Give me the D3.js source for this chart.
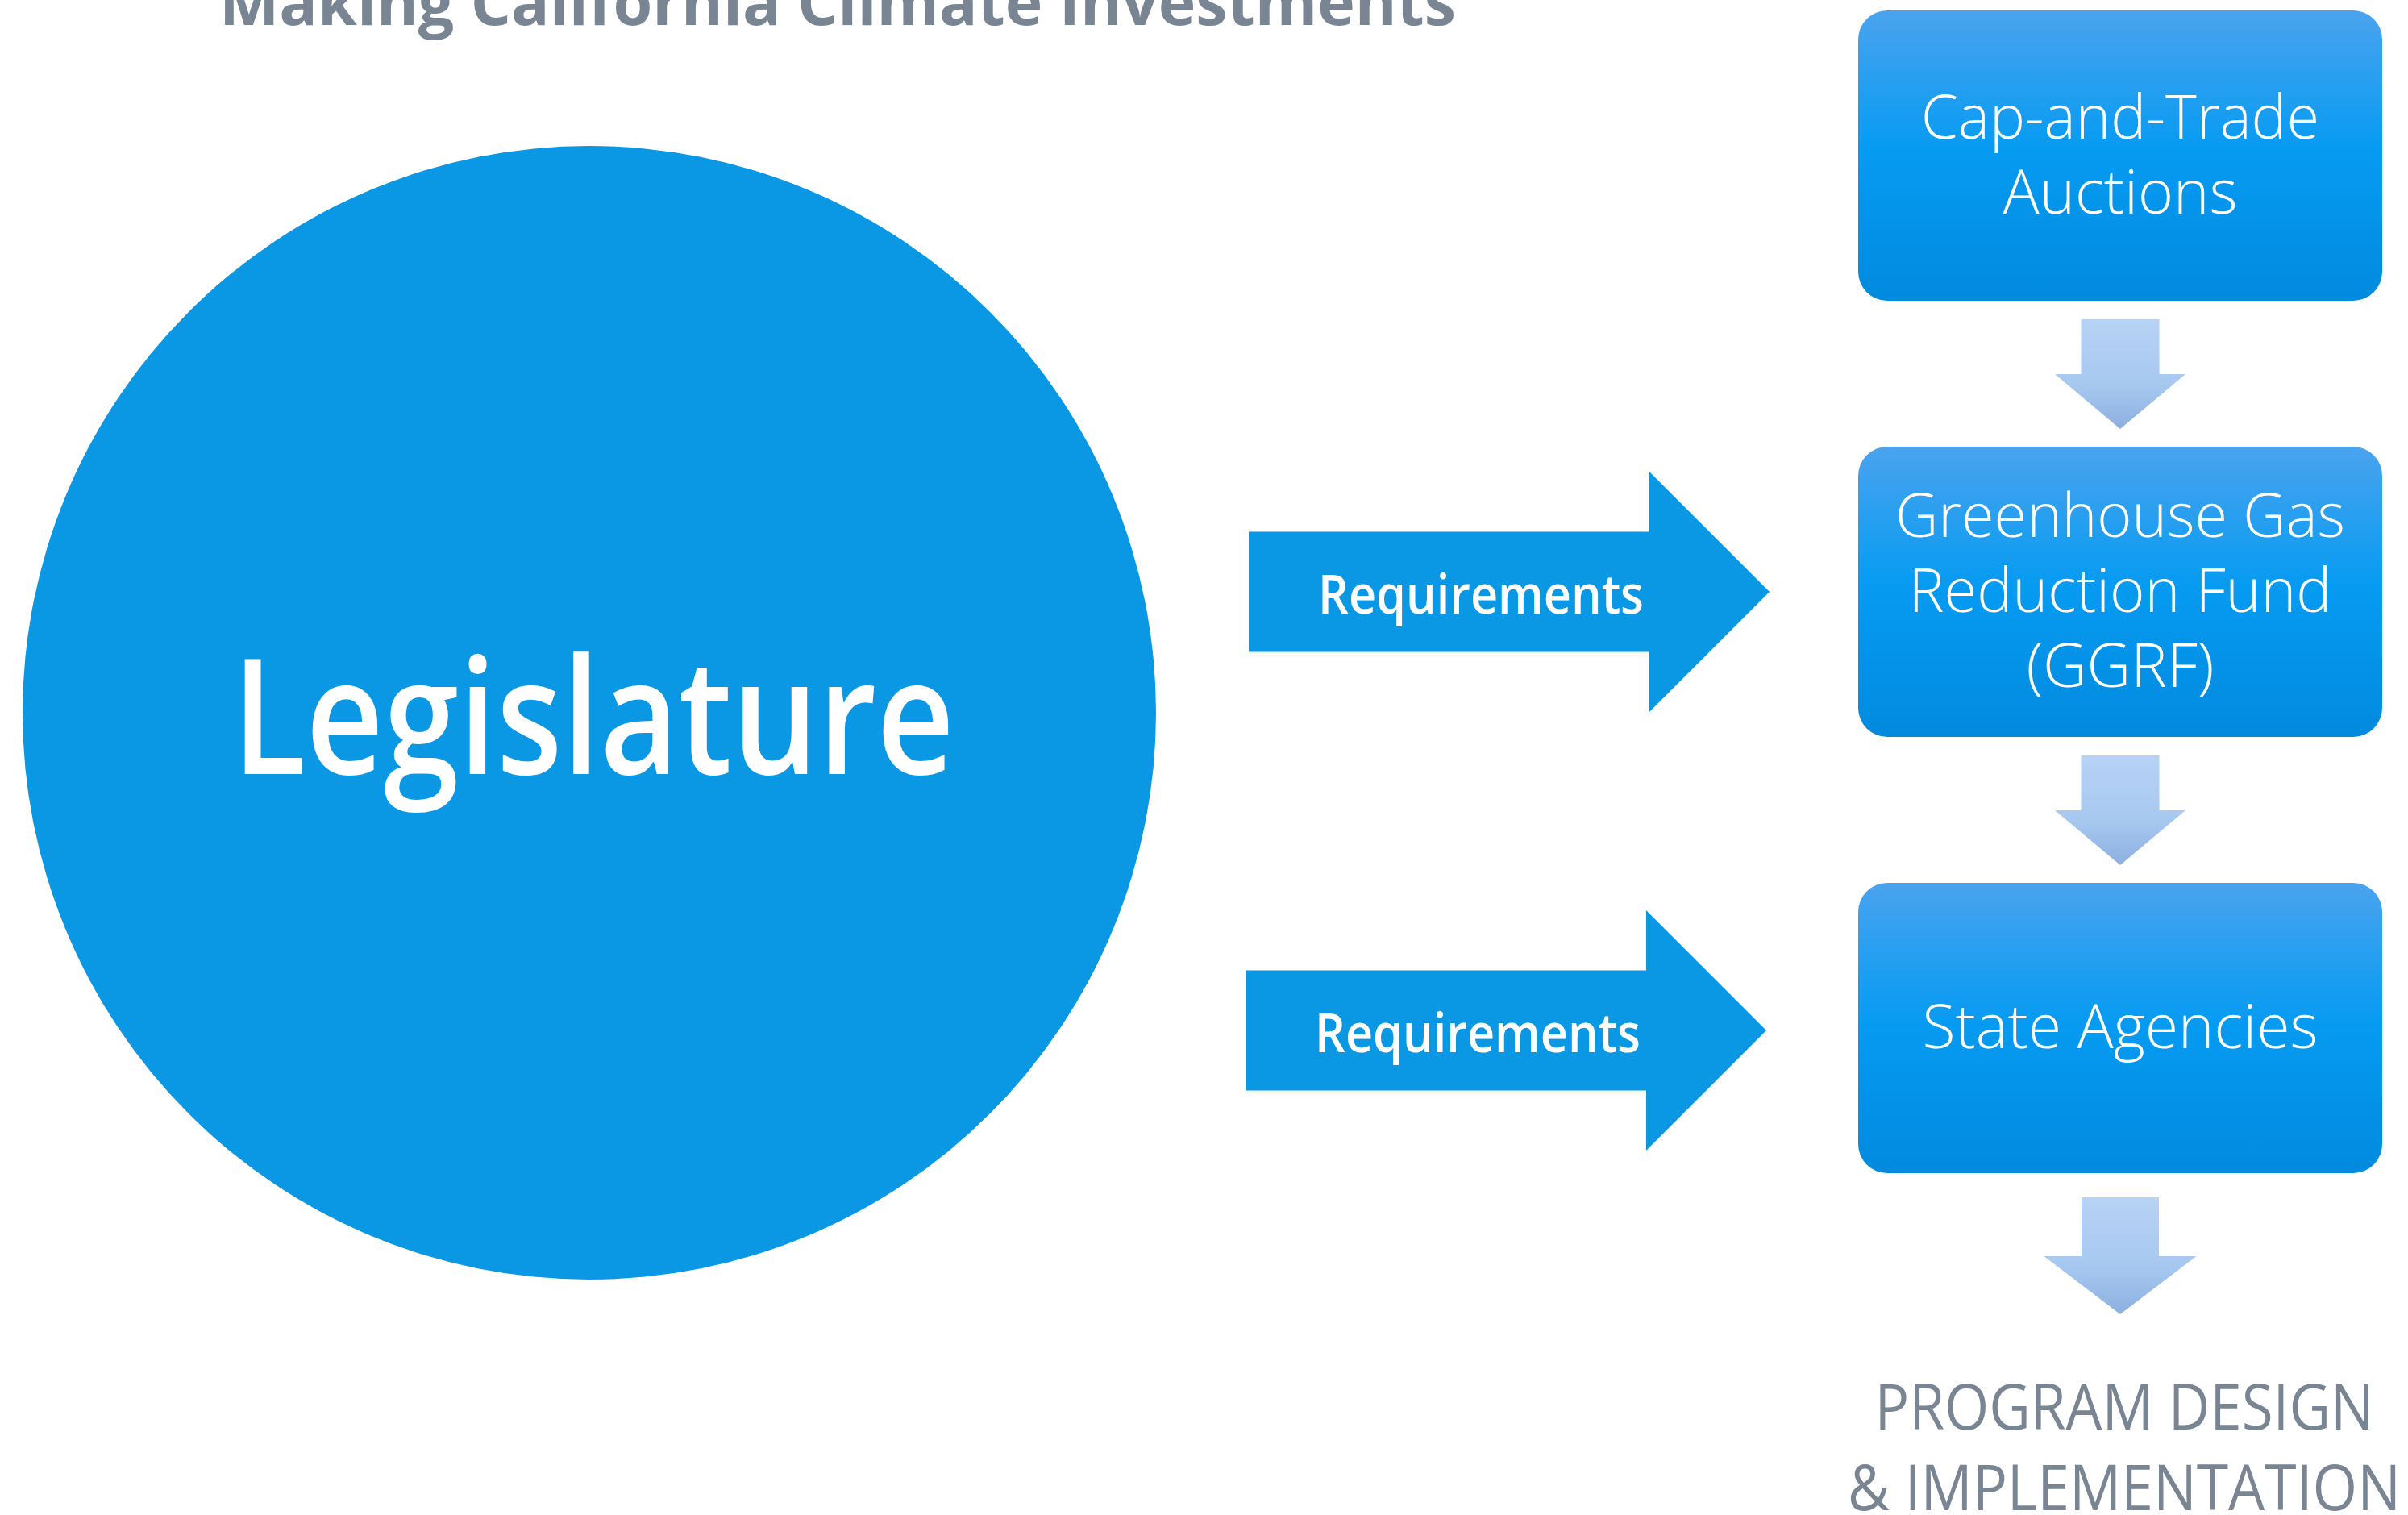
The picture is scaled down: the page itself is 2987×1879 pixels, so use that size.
<!DOCTYPE html>
<meta charset="utf-8">
<script src="https://d3js.org/d3.v7.min.js"></script>
<style>
  body { margin: 0; background: #fff; font-family: 'Open Sans', sans-serif; }
</style>
<body>
<svg id="main" width="2987" height="1879"></svg>
</body>
<script>

// diagram content
var title = "Making California Climate Investments";
var sourceLabel = "Legislature";
var stageLabels = [
  ["Cap-and-Trade", "Auctions"],
  ["Greenhouse Gas", "Reduction Fund", "(GGRF)"],
  ["State Agencies"]
];
var stageWidths = [
  [494, 291],
  [558, 525, 233],
  [491]
];
var linkLabels = ["Requirements", "Requirements"];
var linkTargets = [1, 2];   // stage index each requirements arrow points to
var outcomeLabels = ["PROGRAM DESIGN", "& IMPLEMENTATION"];
var outcomeWidths = [619, 686];

var svg = d3.select("#main"),
    W = +svg.attr("width"),
    H = +svg.attr("height");

var grey = "#7a8594",
    blue = "#0a97e4";

var defs = svg.append("defs");
var boxGrad = defs.append("linearGradient").attr("id", "boxGrad")
    .attr("x1", 0).attr("y1", 0).attr("x2", 0).attr("y2", 1);
boxGrad.append("stop").attr("offset", "0%").attr("stop-color", "#4aa3ee");
boxGrad.append("stop").attr("offset", "48%").attr("stop-color", "#069bf2");
boxGrad.append("stop").attr("offset", "100%").attr("stop-color", "#018ade");

var arrGrad = defs.append("linearGradient").attr("id", "arrGrad")
    .attr("x1", 0).attr("y1", 0).attr("x2", 0).attr("y2", 1);
arrGrad.append("stop").attr("offset", "0%").attr("stop-color", "#b7d3f5");
arrGrad.append("stop").attr("offset", "60%").attr("stop-color", "#a6c8f0");
arrGrad.append("stop").attr("offset", "100%").attr("stop-color", "#8cafe0");

// scales: stage index -> top of box, column x
var stageY = d3.scaleLinear().domain([0, 1]).range([13, 554]);
var boxH = 360;
var col = d3.scaleLinear().domain([0, 1]).range([2305, 2955]);
var colMid = col(0.5);

// title (runs off the top edge)
svg.append("text")
    .attr("x", 272)
    .attr("y", 31)
    .attr("font-size", 78)
    .attr("font-weight", 700)
    .attr("fill", grey)
    .attr("textLength", 1534)
    .attr("lengthAdjust", "spacingAndGlyphs")
    .text(title);

// legislature circle
svg.append("circle")
    .attr("cx", 731)
    .attr("cy", 884)
    .attr("r", 703)
    .attr("fill", blue);

svg.append("text")
    .attr("x", 736)
    .attr("y", 960)
    .attr("text-anchor", "middle")
    .attr("font-size", 200)
    .attr("font-weight", 600)
    .attr("fill", "#fff")
    .attr("textLength", 896)
    .attr("lengthAdjust", "spacingAndGlyphs")
    .text(sourceLabel);

// stage boxes
var boxes = svg.selectAll("g.stage")
  .data(stageLabels)
  .enter().append("g")
    .attr("class", "stage")
    .attr("transform", function(d, i) { return "translate(0," + stageY(i) + ")"; });

boxes.append("rect")
    .attr("x", col(0))
    .attr("width", col(1) - col(0))
    .attr("height", boxH)
    .attr("rx", 36)
    .attr("fill", "url(#boxGrad)");

boxes.each(function(lines, i) {
  var g = d3.select(this);
  var lh = 93;
  var first = boxH / 2 + 25 - (lines.length - 1) * lh / 2;
  lines.forEach(function(t, j) {
    g.append("text")
      .attr("x", colMid)
      .attr("y", first + j * lh)
      .attr("text-anchor", "middle")
      .attr("font-size", 76)
      .attr("font-weight", 300)
      .attr("fill", "#fff")
      .attr("textLength", stageWidths[i][j])
      .attr("lengthAdjust", "spacingAndGlyphs")
      .text(t);
  });
});

// down arrows below each stage
function downArrow(top, shaftH, headH, shaftW, headW) {
  var p = d3.path();
  p.moveTo(colMid - shaftW / 2, top);
  p.lineTo(colMid + shaftW / 2, top);
  p.lineTo(colMid + shaftW / 2, top + shaftH);
  p.lineTo(colMid + headW / 2, top + shaftH);
  p.lineTo(colMid, top + shaftH + headH);
  p.lineTo(colMid - headW / 2, top + shaftH);
  p.lineTo(colMid - shaftW / 2, top + shaftH);
  p.closePath();
  return p.toString();
}

svg.selectAll("path.down")
  .data(stageLabels)
  .enter().append("path")
    .attr("class", "down")
    .attr("fill", "url(#arrGrad)")
    .attr("d", function(d, i) {
      var last = i === stageLabels.length - 1;
      var top = stageY(i) + boxH + (last ? 30 : 23);
      return last ? downArrow(top, 73, 72, 96, 189)
                  : downArrow(top, 68, 68, 97, 162);
    });

// requirements arrows
var rx = d3.scaleLinear().domain([0, 1]).range([1549, 1545]);
svg.selectAll("g.req")
  .data(linkLabels)
  .enter().append("g")
    .attr("class", "req")
    .each(function(label, i) {
      var g = d3.select(this);
      var cy = stageY(linkTargets[i]) + boxH / 2 + (i ? 3 : 0);
      var x0 = rx(i), xh = x0 + 497, xt = xh + 149;
      var bh = 149 / 2, hh = 149;
      var p = d3.path();
      p.moveTo(x0, cy - bh);
      p.lineTo(xh, cy - bh);
      p.lineTo(xh, cy - hh);
      p.lineTo(xt, cy);
      p.lineTo(xh, cy + hh);
      p.lineTo(xh, cy + bh);
      p.lineTo(x0, cy + bh);
      p.closePath();
      g.append("path").attr("d", p.toString()).attr("fill", blue);
      g.append("text")
        .attr("x", x0 + 86)
        .attr("y", cy + 27)
        .attr("font-size", 67)
        .attr("font-weight", 600)
        .attr("fill", "#fff")
        .attr("textLength", 404)
        .attr("lengthAdjust", "spacingAndGlyphs")
        .text(label);
    });

// outcome text
svg.selectAll("text.outcome")
  .data(outcomeLabels)
  .enter().append("text")
    .attr("class", "outcome")
    .attr("x", 2635)
    .attr("y", function(d, i) { return 1773 + i * 100; })
    .attr("text-anchor", "middle")
    .attr("font-size", 78)
    .attr("font-weight", 500)
    .attr("fill", grey)
    .attr("textLength", function(d, i) { return outcomeWidths[i]; })
    .attr("lengthAdjust", "spacingAndGlyphs")
    .text(function(d) { return d; });

</script>
